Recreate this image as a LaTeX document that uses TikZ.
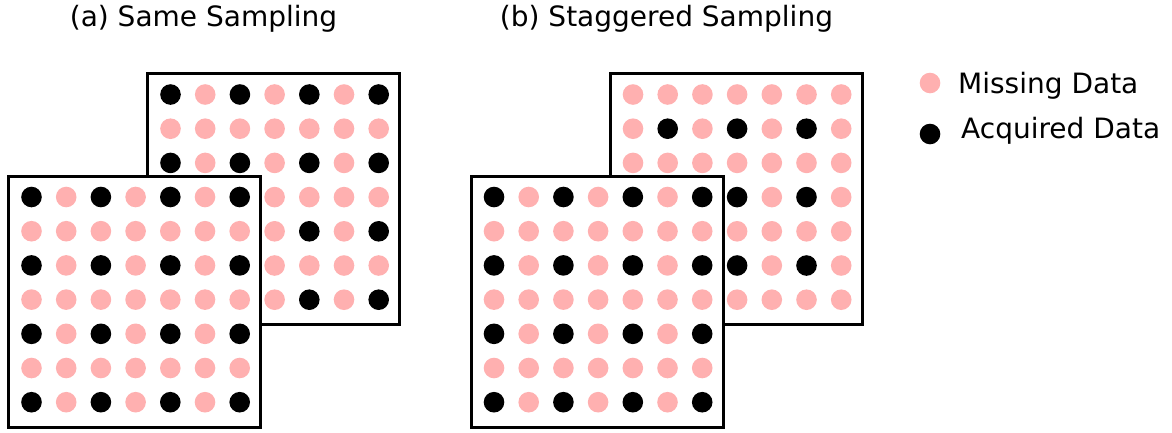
\documentclass[tikz,border=0pt]{standalone}
\usepackage{fontspec}
\setmainfont{DejaVu Sans}
\definecolor{miss}{RGB}{255,176,176}
\tikzset{
  panel/.style={draw=black, line width=3pt, fill=white},
  missdot/.style={circle, fill=miss, minimum size=20.6pt, inner sep=0pt},
  acqdot/.style={circle, fill=black, minimum size=20.6pt, inner sep=0pt},
  lbl/.style={font=\fontsize{28}{32}\selectfont, inner sep=0pt},
}
\newcommand\drawpanelgrid[4]{% name, left, top, mode (0=even/even, 1=odd/odd)
  \draw[panel] (#2,#3) rectangle ++(252,251);
  \foreach \r in {0,...,6}{
    \foreach \c in {0,...,6}{
      \pgfmathtruncatemacro{\isacq}{ifthenelse(#4==0, and(mod(\r,2)==0, mod(\c,2)==0), and(mod(\r,2)==1, mod(\c,2)==1))}
      \ifnum\isacq=1
        \node[acqdot] (#1-\r-\c) at ({#2+23+34.7*\c},{#3+21+34.2*\r}) {};
      \else
        \node[missdot] (#1-\r-\c) at ({#2+23+34.7*\c},{#3+21+34.2*\r}) {};
      \fi
    }
  }
}
\begin{document}
\begin{tikzpicture}[x=1pt,y=-1pt]
\useasboundingbox (0,0) rectangle (1172,432);
\drawpanelgrid{ab}{147.5}{73.5}{0}
\drawpanelgrid{af}{8.5}{176}{0}
\drawpanelgrid{bb}{610}{73.5}{1}
\drawpanelgrid{bf}{471}{176}{0}
% titles
\node[lbl, anchor=base] (ta) at (203.5,26) {(a) Same Sampling};
\node[lbl, anchor=base] (tb) at (666.5,26) {(b) Staggered Sampling};
% legend
\node[missdot] (lm) at (930,83) {};
\node[acqdot] (la) at (930,134) {};
\node[lbl, anchor=base west] (tm) at (958,93) {Missing Data};
\node[lbl, anchor=base west] (tq) at (961,138) {Acquired Data};
\end{tikzpicture}
\end{document}
